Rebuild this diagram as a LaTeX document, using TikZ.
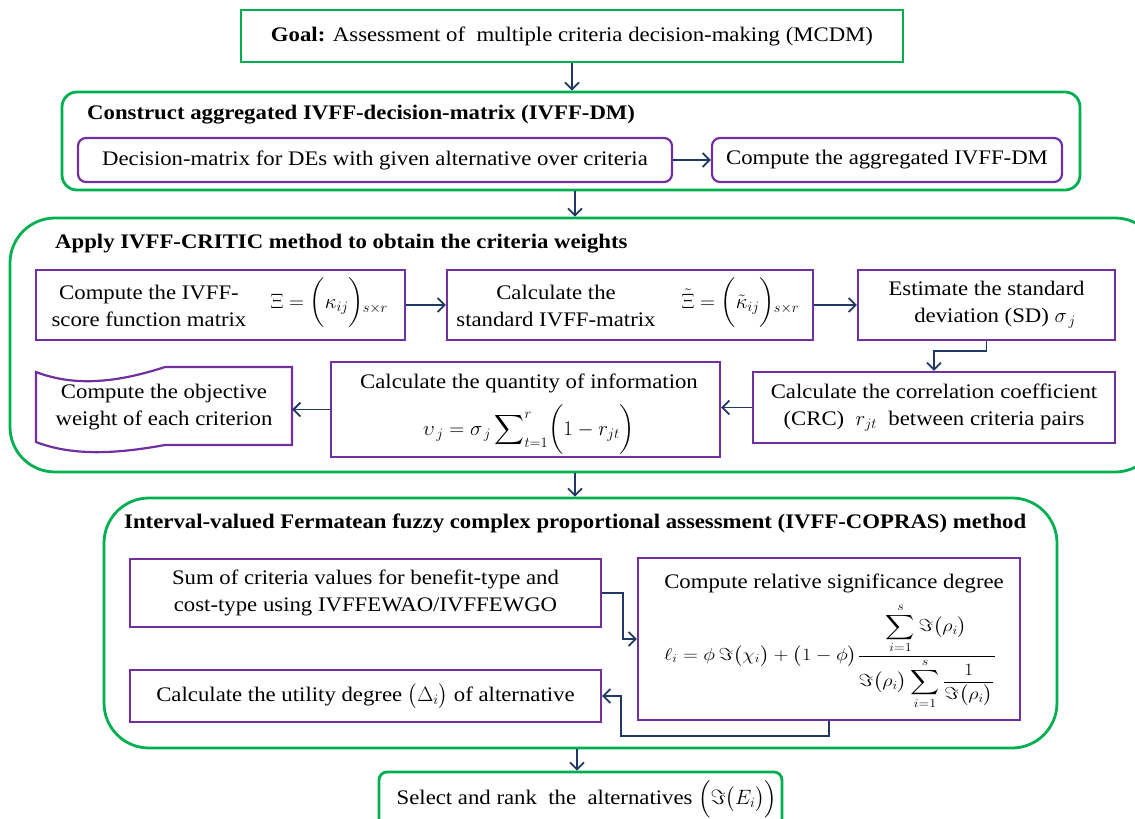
\documentclass[tikz,border=0pt]{standalone}
\usepackage{amsmath}
\usepackage{graphicx}
\usepackage{fontspec}
\setmainfont{Liberation Serif}[FakeStretch=1.1]
\usetikzlibrary{arrows.meta,calc}
\definecolor{grn}{RGB}{0,176,80}
\definecolor{prp}{RGB}{112,48,160}
\definecolor{nvy}{RGB}{32,56,100}
\tikzset{
 txt/.style={font=\fontsize{20.7}{27}\selectfont, align=center, inner sep=0pt},
 ttl/.style={font=\fontsize{20.7}{27}\selectfont\bfseries, anchor=west, inner sep=0pt},
 grnbox/.style={draw=grn, line width=2.8pt, inner sep=0pt},
 prpbox/.style={draw=prp, line width=2.2pt, inner sep=0pt},
 prpline/.style={draw=prp, line width=2.2pt},
 conn/.style={draw=nvy, line width=1.8pt, -{Straight Barb[length=7pt,width=14pt]}},
}
\newcommand{\lowsub}[1]{\kern-1pt\lower4pt\hbox{$\scriptstyle #1$}}
\begin{document}
\begin{tikzpicture}[x=1pt,y=-1pt]
\useasboundingbox (0,0) rectangle (1135,819);
\coordinate (ax) at (575,0);
\coordinate (jx) at (577,0);
% goal
\node[grnbox, txt, minimum width=662, minimum height=52] (goal) at (572,36) {\textbf{Goal:} Assessment of\ \ multiple criteria decision-making (MCDM)};
% box 2
\node[grnbox, rounded corners=15, minimum width=1018, minimum height=98] (box2) at (571,141) {};
\node[ttl] (t2) at (87,115) {Construct aggregated IVFF-decision-matrix (IVFF-DM)};
\node[prpbox, txt, rounded corners=8, minimum width=594, minimum height=44] (dm) at (375,160) {Decision-matrix for DEs with given alternative over criteria};
\node[prpbox, txt, rounded corners=8, minimum width=350, minimum height=44] (agg) at (887,160) {Compute the aggregated IVFF-DM};
% box 3
\node[grnbox, rounded corners=45, minimum width=1150, minimum height=254] (box3) at (585,345) {};
\node[ttl] (t3) at (55,244) {Apply IVFF-CRITIC method to obtain the criteria weights};
\node[prpbox, minimum width=369, minimum height=70] (a) at (220.5,305) {};
\node[txt] (at) at (149,306) {Compute the IVFF-\\score function matrix};
\node[txt] (am) at (329,303) {$\Xi=\biggl(\kappa_{ij}\biggr)\lowsub{s\times r}$};
\node[prpbox, minimum width=366, minimum height=70] (b) at (630,305) {};
\node[txt] (bt) at (556,306) {Calculate the\\standard IVFF-matrix};
\node[txt] (bm) at (740,303) {$\tilde{\Xi}=\biggl(\tilde{\kappa}_{ij}\biggr)\lowsub{s\times r}$};
\node[prpbox, txt, minimum width=257, minimum height=70] (c) at (986.5,305) {Estimate the standard\\\ \ \ deviation (SD) $\sigma_{\,j}$};
\node[prpbox, txt, minimum width=362, minimum height=71] (d) at (934,407.5) {Calculate the correlation coefficient\\(CRC)\ \ $r_{jt}$\ \ between criteria pairs};
\node[prpbox, minimum width=389, minimum height=95] (e) at (525.5,409.5) {};
\node[txt] (et) at (529,383) {Calculate the quantity of information};
\node[txt] (em) at (529,430) {$\upsilon_{\,j}=\sigma_{\,j}\displaystyle\sum\nolimits_{t=1}^{r}\biggl(1-r_{jt}\biggr)$};
\node[txt, minimum width=256, minimum height=72] (f) at (164,407) {Compute the objective\\weight of each criterion};
\draw[prpline] (36,372) .. controls (70,385) and (110,385) .. (165,367) -- (292,367) -- (292,445) -- (165,445) .. controls (110,455) and (70,455) .. (36,442) -- cycle;
% box 4
\node[grnbox, rounded corners=45, minimum width=953, minimum height=250] (box4) at (580.5,623) {};
\node[ttl] (t4) at (124,523) {Interval-valued Fermatean fuzzy complex proportional assessment (IVFF-COPRAS) method};
\node[prpbox, txt, minimum width=471, minimum height=68] (g) at (365.5,593) {Sum of criteria values for benefit-type and\\cost-type using IVFFEWAO/IVFFEWGO};
\node[prpbox, minimum width=382, minimum height=162] (h) at (829,639) {};
\node[txt] (ht) at (834,583) {Compute relative significance degree};
\node[txt, font=\fontsize{18.5}{22}\selectfont] (hm) at (830,656) {\scalebox{1.17}[1]{$\ell_{i}=\phi\,\Im\bigl(\chi_{i}\bigr)+\bigl(1-\phi\bigr)\dfrac{\displaystyle\sum_{i=1}^{s}\Im\bigl(\rho_{i}\bigr)}{\Im\bigl(\rho_{i}\bigr)\displaystyle\sum_{i=1}^{s}\frac{1}{\Im\bigl(\rho_{i}\bigr)}}$}};
\node[prpbox, txt, minimum width=471, minimum height=52] (i) at (365.5,696) {Calculate the utility degree $\bigl(\Delta_{i}\bigr)$ of alternative};
% final
\node[grnbox, rounded corners=8, minimum width=403, minimum height=70] (j) at (580.5,807) {};
\node[txt] (jt) at (587,799) {Select and rank\ \ the\ \ alternatives $\Bigl(\Im\bigl(E_{i}\bigr)\Bigr)$};
% connectors
\draw[conn] (goal.south) -- (box2.north -| goal.south);
\draw[conn] (dm.east) -- (agg.west);
\draw[conn] (box2.south -| ax) -- (box3.north -| ax);
\draw[conn] (a.east) -- (b.west);
\draw[conn] (b.east) -- (c.west);
\draw[conn] (c.south) -- ++(0,10) -| (d.north);
\draw[conn] (d.west) -- (d.west -| e.east);
\draw[conn] (e.west) -- (e.west -| f.east);
\draw[conn] (box3.south -| ax) -- (box4.north -| ax);
\draw[conn] (g.east) -- ++(21,0) |- (h.west);
\draw[conn] (h.south) -- ++(0,15) -| ([xshift=19pt]i.east) -- (i.east);
\draw[conn] (box4.south -| jx) -- (j.north -| jx);
\end{tikzpicture}
\end{document}
